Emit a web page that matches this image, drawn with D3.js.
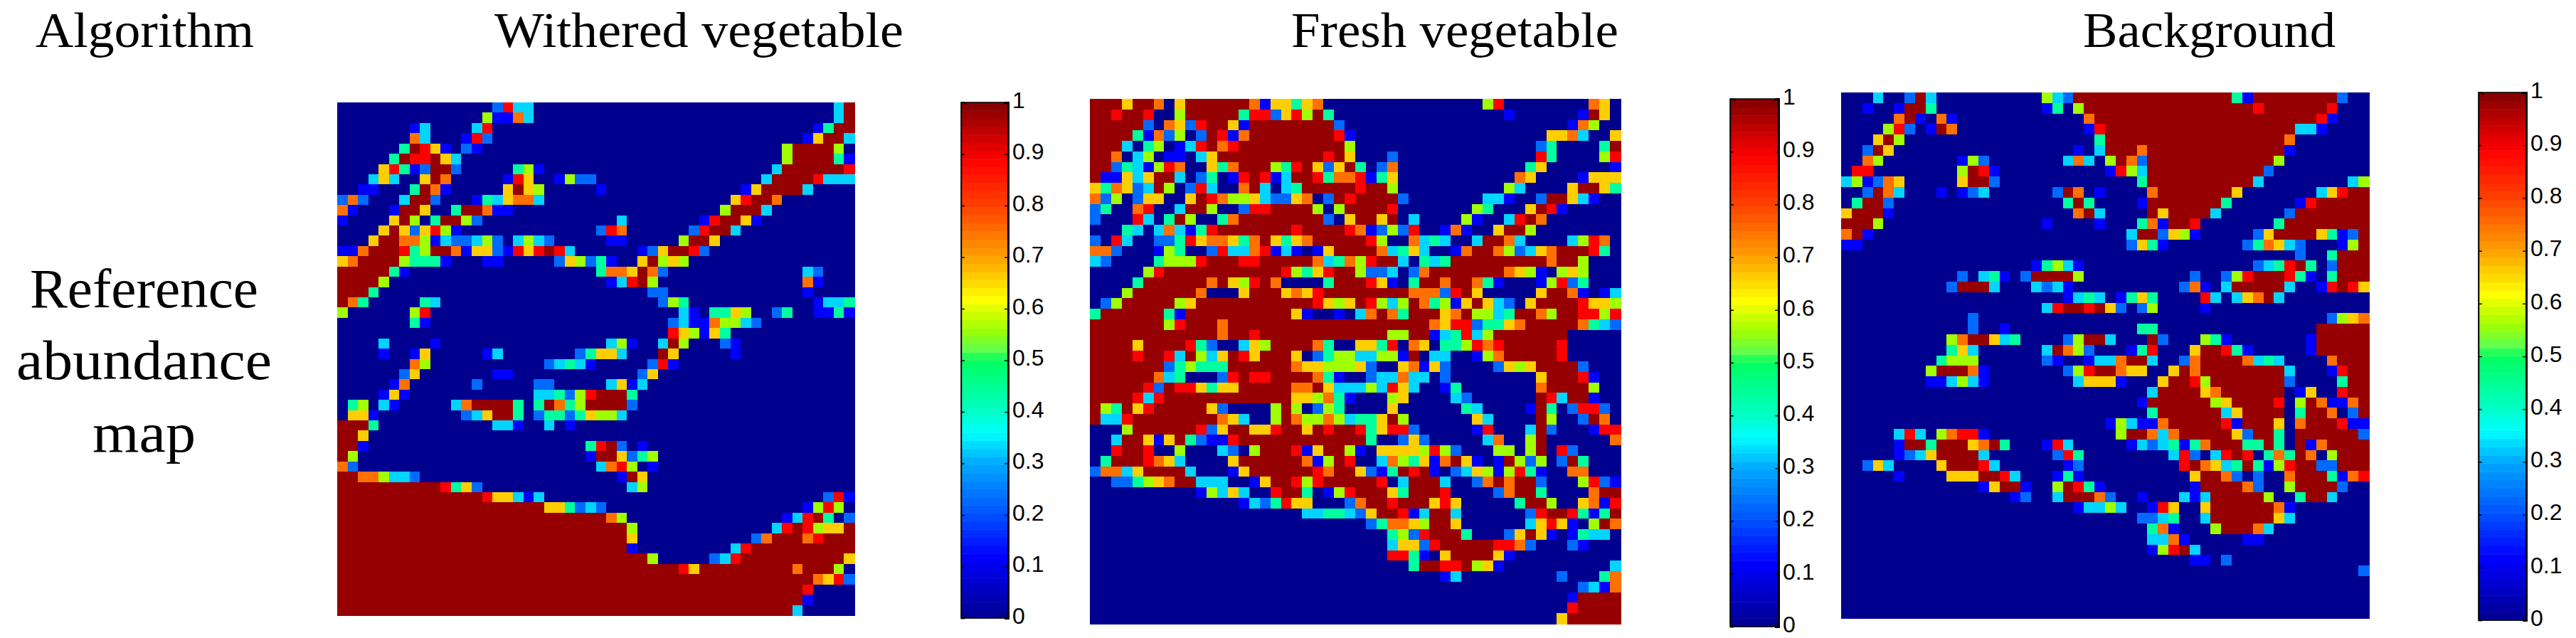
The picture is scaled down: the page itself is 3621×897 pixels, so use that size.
<!DOCTYPE html>
<html>
<head>
<meta charset="utf-8">
<script src="https://cdn.jsdelivr.net/npm/d3@7"></script>
<style>
  html, body { margin: 0; padding: 0; background: #fff; }
  svg { display: block; }
  .tick-label { font-family: "Liberation Sans", Arial, sans-serif; font-size: 32px; fill: #000; }
  .head { font-family: "Liberation Serif", serif; font-size: 70px; fill: #000; }
  .side { font-family: "Liberation Serif", serif; font-size: 78px; fill: #000; }
</style>
</head>
<body>
<svg id="chart" width="3621" height="897"></svg>
<script>
// abundance classes seen in the maps, one digit per class
var cellLevels = [0, 0.12, 0.23, 0.33, 0.44, 0.56, 0.66, 0.75, 0.89, 0.98];
var barTicks = [0, 0.1, 0.2, 0.3, 0.4, 0.5, 0.6, 0.7, 0.8, 0.9, 1];
var columnTitles = ['Withered vegetable', 'Fresh vegetable', 'Background'];
var sideLabels = ['Reference', 'abundance', 'map'];

// Rows: "col:digits" lists the classes from col on, "a-b:d" fills a run, the rest is class 0
var witheredRows = [
  '15:2833 48:39', '14:51173 48:39', '7:13 13:38 46:1499', '7:73 12:182 45:16993',
  '6:49861 12:21 43:599995', '5:4988963 43:5999941', '4:68412992 17:451 42:39999998',
  '3:363 8:697 16:186 21:1522 41:399998333', '2:11 7:4971 16:6965 25:1 39:1699993',
  '0:272 6:3992 13:1436773 38:68997', '0:71 5:1996 11:499711 37:59993',
  '0:1 5:695049952 27:3 35:189961', '4:69626851 25:287 34:28993',
  '3:6997751322352 17:3532 26:11 33:5996', '0:11799984599716621868983 29:1269982',
  '0:67999954441 14:11 21:265241 29:69565', '0:9999941 25:4776972 45:32',
  '0:99995 26:13895 45:71', '0:9994 30:22 45:1', '0:974 8:43 31:254 46:1334',
  '0:5 7:58 33:31 36:4465 42:24 46:1141', '7:41 32:231175532', '32:865164',
  '4:3 9:1 26:351 31:395 37:21', '4:1 7:16 14:13 23:24663 31:96 38:1', '7:75 20:23431 30:281',
  '6:26 15:11 29:26', '5:17 13:2 19:22 26:3613', '4:161 19:3342589994',
  '1:45 4:31 11:3799994 19:4974599992', '1:661 12:236994 19:244246553', '0:9994 15:331 20:3 22:1',
  '0:996', '0:991 24:4892 29:1', '0:95 24:1996245', '0:72 25:3785 30:1', '0:99775332 27:196',
  '0-9:9 10:8462 28:35', '0-13:9 14:866313 47:281', '0-19:9 20:664232 45:1585',
  '0-25:9 26:75 43:13894 49:2', '0-27:9 28:5 42:38985669', '0-27:9 28:6 40:2799978999',
  '0-27:9 28:1 38:38 40-49:9', '0-29:9 30:5 36:238 39-48:9 49:6',
  '0-32:9 33:86 35-43:9 44:7 45-47:9 48:5', '0-45:9 46:7682', '0-44:9 45:8', '0-44:9 45:1', '0-43:9 44:3'
];

var freshRows = [
  '0:9996997069999997166467 37:58 47:76', '0:99899800599999488268594 39:1 46:196',
  '0:999992076289961999999992 45:175', '0:9999417250298179999999981 43:6673 49:6',
  '0:99930450138978 14-23:9 24:5 42:24 48:49', '0:997035011036 12-21:9 22:896 28:2 42:84 48:58',
  '0:99243158700647999548962694027 41:46 49:1', '0:91163699302401898139984778146 40:76 46:1666',
  '0:64762395028300793034999998995 39:53 45:69964', '0:725026600698755632267029899992 37:331 42:299631',
  '0:24007800399500288999950599998 36:54 41:6981', '0:20008304950047 14-21:9 22:206996903 35:51 39:3897',
  '3:430373148 12-18:9 19:8 20-23:9 24:8712528 33:171 38:6995',
  '0:20830022486776479646799999850073430039973 45:3587',
  '0:7720001540028337813101699997346300179975236799984',
  '0:320000455589998899999 21:734758 27-28:9 29:30434 34-42:9 43:7995',
  '5:58 7-17:9 18:85468 23-24:9 25:5223027 32-38:9 39:76510565',
  '4:4 5-10:9 11:7965897 22:4 23-25:9 26:86104 31-32:9 33:7 34-35:9 36:741 42:15824',
  '3:5 4-9:9 10:7 14:6 15-17:9 18:6768 22-29:9 30:7772896 42:6 43-44:9 45:71013',
  '1:25 3-7:9 8:56 10-20:9 21:865698535974516963206 42-45:9 46:8665',
  '0:4 1-6:9 7:41 9-18:9 19:61001037974 30-32:9 33:6795534 40-41:9 42:75 44-45:9 46:8858',
  '0-6:9 7:58 9-11:9 12:7 13-31:9 32:768824467 41-45:9 46:7432',
  '0-11:9 12:7 13-14:9 15:8 16-27:9 28:55 30-31:9 32:134835 38-44:9',
  '0-3:9 4:6 5-8:9 9:84200365 17-20:9 21:740066480760445878 39-43:9 44:8',
  '0-3:9 4:8 5-6:9 7:839536986 16-18:9 19:60245533551903300157 39-43:9 44:8',
  '0-6:9 7:245444 13-18:9 19:766555620067162 38:2656 42-45:9 46:2',
  '0-5:9 6:73400028988 17-20:9 21:7410023373302 42:6 43-45:9 46:81',
  '0-4:9 5:829886466 14-18:9 19:779633353863 33:14 42:7 43-46:9 47:5',
  '0-3:9 4:838 7-18:9 19:665741 28:56 34:32 42:983 45-46:9 47:1',
  '0:954968 6-10:9 11:6200005950254 28:6 35:43 41:19402882',
  '0:9338 4-11:9 12:763005975575344695 36:63 42:95 46:297',
  '3:5 4-9:9 10:826 13-14:9 15:668 18-19:9 20:698 23-24:9 25:846882 36:18 41:392 47:188',
  '2:3 3-4:9 5:616942118 14-25:9 26:4 29:262 37:37 41:59 49:7',
  '2:8 3-4:9 5:8 8:5 12:3205 16-18:9 19:816 22-23:9 24:51 27:66665852 38:55 41:59 44:82',
  '1:4 2-4:9 5:8763 13:6 14-19:9 20:71598 27:37546179610195250294',
  '0:27736 5-8:9 9:3 13:16 15-20:9 21:87 23-24:9 25:621498910236515841 45:77',
  '2:224567 8-9:9 10:333 15:16 17-18:9 19:858 22-26:9 27:803 30-32:9 33:3 36:2797 40-41:9 42:2 46:5821',
  '10:15363 17:8 18-19:9 20:40158 25-27:9 28:64 30-32:9 33:8 38:27 40-41:9 42:4 47:799',
  '14:1324866 24:27 26-27:9 28:8 29-31:9 32:686 40:4 41-42:9 43:5 46:6718',
  '20:3344326 27-28:9 29:813 32-33:9 34:3 41:28 43-44:9 45:84149',
  '26:247765 32-33:9 34:6 41:368610597', '28:4528 32-34:9 35:4 39:26961 45:1433',
  '28:36628 33-37:9 38:8872 45:21', '28:884106 34-37:9 38:61', '30:499889561 49:3',
  '33:13 44:2 48:47', '46:2317', '45:19999', '45:89999', '44:699999'
];

var backgroundRows = [
  '3:3 6:293 19:532 22-36:9 37:41 39-46:9 47:2', '2:1 5:1994 19:14 22:5 23-38:9 39:8 40-45:9 46:8',
  '5:791 9:71 23:7 24-44:9 45:81', '4:582 8:197 23:18 25-42:9 43:331', '3:695 24:4 25-41:9 42:7',
  '2:296 22:1 24:3 25-27:9 28:7 29-41:9 42:1', '2:75 11:152 21:373 25:5972 29-40:9 41:5',
  '1:88 11:5981 25:1853 29-39:9 40:2', '0:351276 11:6992 28:4 29-38:9 39:3 48:35',
  '2:2973 9:1 11:123 20:297 24:1 29:7 30-36:9 37:6 45:36899', '1:4992 21:494 28:1 29-35:9 36:4 43:18 45-49:9',
  '0:69991 22:793 29:96 31-34:9 35:3 42:2 43-49:9', '0:9995 19:1 24:1 28:471 31-32:9 33:8 41:4 42-49:9',
  '0:791 27:3992651 39:26 41-44:9 45:64129', '0:11 27:2641 38:247632 47:159', '43:2 46:4999',
  '18:14531 39:234894 46:2999', '11:2 13:341 17:2 18-21:9 22:5 33:2 36:258 39-41:9 42:841 46:4999',
  '10:29993 18:3231 32:271 36:3 37-41:9 42:3 45:18986', '21:1343 26:1464 34:83 37:36793',
  '19:38998962 28:25 34:1', '12:2 46:2567', '12:2 15:1 28:44 45-49:9',
  '10:5799634 21:25993 29:92 34:541 44:1 45-49:9', '10:463 19:39752 27:148 33:699841 44:1 45-49:9',
  '9:4555 19:21 23:1337 27-28:9 29:3 32:27 34-37:9 38:7343 46:7999',
  '8:599971 21:258 24-25:9 26:766 31:697 34-41:9 42:3 46:1899',
  '8:113531 22:36661 30:69985 35-41:9 42:2 47:499', '29:3 30-33:9 34:67 36-41:9 43:16 47:899',
  '28:1 29-34:9 35:56 37-40:9 41:8 43:5971179', '29:4 30-35:9 36:36 38-41:9 43:4 44-45:9 46:7 48:29',
  '25:153117 31-35:9 36:81 38-40:9 41:6 43:7 44-46:9 47:811',
  '5:383 9:57881 26:5 27-28:9 29:737 32-36:9 37:62 39-40:9 41:4 43-48:9 49:2',
  '5:1 6-7:9 8:4 9-11:9 12:6794 19:183 27:13234147 35-37:9 38:44 40:94 43:917 46-49:9',
  '5:1236 9-12:9 13:3 20:284 31:382 35:389804749705 47-49:9',
  '2:263 9:6 10-12:9 13:83 21:12 32:897634941589922 47-49:9',
  '5:1 10:666 13-14:9 15:83 20:141 33:6 34-35:9 36:7202 42:7 43-45:9 46:4178',
  '13:16991 20:59841 33:1 34-37:9 38:72 42:5 43-46:9 47:2',
  '16:12 20:3 21-23:9 24:72 28:1 32:313 35-39:9 40:5 43:4 44-45:9 46:3',
  '22:13353 29:186 34:6 35-40:9 41:71', '28:2234 34:3 35-40:9 41:63', '29:471 35:5 36-38:9 39:73',
  '29:3371 38:11', '29:15893', '33:11 36:2', '49:2', '', '', '', ''
];

var GRID = 50;
var panels = [
  { rows: witheredRows, map: [474, 1201, 144, 865], bar: [1351, 1417, 144, 869], titleX: [695, 1270] },
  { rows: freshRows, map: [1532, 2278, 139, 877], bar: [2432, 2500, 139, 881], titleX: [1815, 2275] },
  { rows: backgroundRows, map: [2588, 3330, 130, 869], bar: [3484, 3551, 130, 872], titleX: [2928, 3283] }
];

// same ramp as the colorbar, read from it stop by stop
var jet = d3.scaleLinear()
  .domain([0, 0.12, 0.2, 0.3, 0.36, 0.4, 0.5, 0.52, 0.56, 0.618, 0.7, 0.8, 0.89, 1])
  .range(['#00008f', '#0000ff', '#0050ff', '#00a8ff', '#00ffff', '#00ffc8', '#00ff60', '#60ff50',
          '#a0ff00', '#ffff00', '#ffa000', '#ff4000', '#ff0000', '#800000'])
  .clamp(true);

function parseRow(text) {
  var row = d3.range(GRID).map(function () { return 0; });
  text.split(' ').filter(Boolean).forEach(function (token) {
    var parts = token.split(':');
    if (parts[0].indexOf('-') > -1) {
      var ends = parts[0].split('-').map(Number);
      for (var c = ends[0]; c <= ends[1]; c++) row[c] = +parts[1];
    } else {
      parts[1].split('').forEach(function (d, i) {
        if (+parts[0] + i < GRID) row[+parts[0] + i] = +d;
      });
    }
  });
  return row;
}

var svg = d3.select('#chart');

panels.forEach(function (panel, idx) {
  var x = d3.scaleBand().domain(d3.range(GRID)).range([panel.map[0], panel.map[1]]);
  var y = d3.scaleBand().domain(d3.range(GRID)).range([panel.map[2], panel.map[3]]);

  var cells = [];
  panel.rows.forEach(function (text, r) {
    parseRow(text).forEach(function (k, c) {
      cells.push({ r: r, c: c, v: cellLevels[k] });
    });
  });

  svg.append('g').selectAll('rect')
    .data(cells)
    .enter()
    .append('rect')
    .attr('x', function (d) { return x(d.c); })
    .attr('y', function (d) { return y(d.r); })
    .attr('width', x.bandwidth() + 0.5)
    .attr('height', y.bandwidth() + 0.5)
    .attr('shape-rendering', 'crispEdges')
    .attr('fill', function (d) { return jet(d.v); });

  // colorbar, 64 steps like the original colormap
  var barX = d3.scaleLinear().domain([0, 1]).range([panel.bar[0], panel.bar[1]]);
  var barY = d3.scaleLinear().domain([0, 1]).range([panel.bar[3], panel.bar[2]]);
  var steps = d3.range(64);
  var g = svg.append('g');
  g.selectAll('rect')
    .data(steps)
    .enter()
    .append('rect')
    .attr('x', panel.bar[0])
    .attr('width', panel.bar[1] - panel.bar[0])
    .attr('y', function (d) { return barY((d + 1) / 64); })
    .attr('height', barY(0) - barY(1 / 64) + 0.5)
    .attr('fill', function (d) { return jet((d + 0.5) / 64); });

  g.append('rect')
    .attr('x', panel.bar[0]).attr('y', panel.bar[2])
    .attr('width', panel.bar[1] - panel.bar[0])
    .attr('height', panel.bar[3] - panel.bar[2])
    .attr('fill', 'none').attr('stroke', '#000').attr('stroke-width', 1.5);

  var right = d3.axisRight(barY).tickValues(barTicks).tickSize(-5).tickPadding(6)
    .tickFormat(function (d) { return String(d); });
  var rightG = g.append('g').attr('transform', 'translate(' + panel.bar[1] + ',0)').call(right);
  rightG.select('.domain').attr('stroke-width', 3);
  rightG.selectAll('line').attr('stroke-width', 1.5);
  // labels sit a little above their ticks in the original
  rightG.selectAll('text').attr('class', 'tick-label').attr('font-size', null).attr('font-family', null).attr('y', -3);

  var left = d3.axisLeft(barY).tickValues(barTicks).tickSize(-5).tickFormat('');
  var leftG = g.append('g').attr('transform', 'translate(' + panel.bar[0] + ',0)').call(left);
  leftG.selectAll('line').attr('stroke-width', 1.5);
  leftG.select('.domain').attr('stroke-width', 1.5);

  // the two small x ticks left on the colorbar box
  var nubs = [0.09, 0.91];
  var topAxis = d3.axisBottom(barX).tickValues(nubs).tickSize(3).tickFormat('');
  var bottomAxis = d3.axisTop(barX).tickValues(nubs).tickSize(3).tickFormat('');
  [[topAxis, panel.bar[2]], [bottomAxis, panel.bar[3]]].forEach(function (a) {
    var ag = g.append('g').attr('transform', 'translate(0,' + a[1] + ')').call(a[0]);
    ag.select('.domain').remove();
    ag.selectAll('line').attr('stroke-width', 1.5);
  });

  svg.append('text')
    .attr('class', 'head')
    .attr('x', panel.titleX[0])
    .attr('y', 66)
    .attr('textLength', panel.titleX[1] - panel.titleX[0])
    .attr('lengthAdjust', 'spacingAndGlyphs')
    .text(columnTitles[idx]);
});

svg.append('text')
  .attr('class', 'head')
  .attr('x', 50).attr('y', 66)
  .attr('textLength', 307).attr('lengthAdjust', 'spacingAndGlyphs')
  .text('Algorithm');

var sideSpans = [[42, 363, 432], [23, 382, 533], [130, 275, 635]];
sideLabels.forEach(function (label, i) {
  svg.append('text')
    .attr('class', 'side')
    .attr('x', sideSpans[i][0]).attr('y', sideSpans[i][2])
    .attr('textLength', sideSpans[i][1] - sideSpans[i][0])
    .attr('lengthAdjust', 'spacingAndGlyphs')
    .text(label);
});
</script>
</body>
</html>
